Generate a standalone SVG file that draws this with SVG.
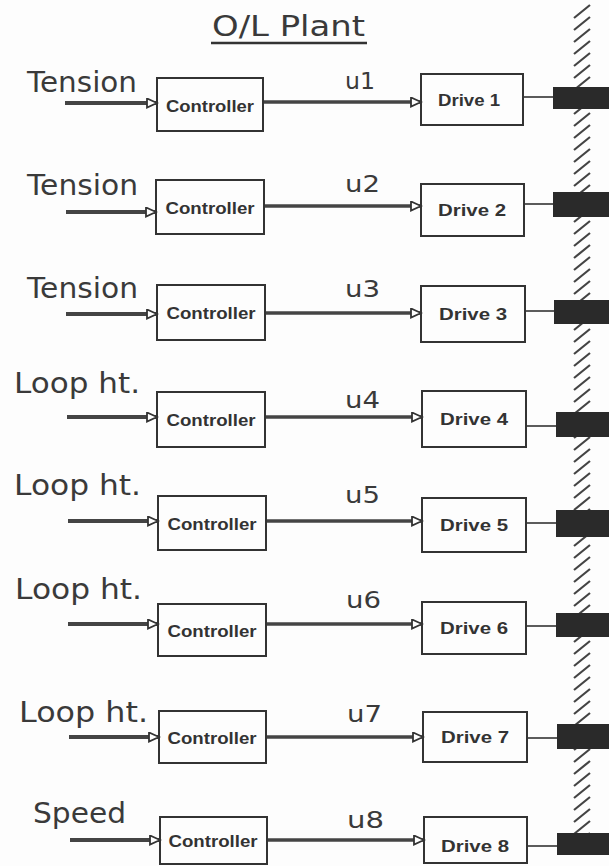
<svg xmlns="http://www.w3.org/2000/svg" width="609" height="866" viewBox="0 0 609 866">
<defs>
<style>
.lbl{font-family:"DejaVu Sans","Liberation Sans",sans-serif;font-size:28px;fill:#3a3a3a}
.u{font-family:"DejaVu Sans","Liberation Sans",sans-serif;font-size:23px;fill:#3a3a3a}
.bt{font-family:"Liberation Sans","DejaVu Sans",sans-serif;font-weight:bold;font-size:16px;fill:#333}
.box{fill:none;stroke:#333;stroke-width:2}
.in{stroke:#444;stroke-width:4;fill:none}
.sig{stroke:#444;stroke-width:3.5;fill:none}
.thin{stroke:#333;stroke-width:1.6;fill:none}
.mass{fill:#2a2a2a}
</style>
<marker id="ah" markerUnits="userSpaceOnUse" markerWidth="13" markerHeight="11" refX="10" refY="4.5" orient="auto" viewBox="-1 -1 13 11">
<path d="M0,0 L10,4.5 L0,9 z" fill="#fff" stroke="#333" stroke-width="1.8"/>
</marker>
</defs>
<rect width="609" height="866" fill="#fdfdfd"/>

<g id="title">
<text class="lbl" x="212" y="36" font-size="30" textLength="153" lengthAdjust="spacingAndGlyphs">O/L Plant</text>
<line x1="211" y1="43" x2="367" y2="43" stroke="#333" stroke-width="2.5"/>
</g>

<g id="wall">
<path d="M574,18l16,-13m-16,25l16,-13m-16,25l16,-13m-16,25l16,-13m-16,25l16,-13m-16,25l16,-13m-16,25l16,-13m-16,25l16,-13m-16,25l16,-13m-16,25l16,-13m-16,25l16,-13m-16,25l16,-13m-16,25l16,-13m-16,25l16,-13m-16,25l16,-13m-16,25l16,-13m-16,25l16,-13m-16,25l16,-13m-16,25l16,-13m-16,25l16,-13m-16,25l16,-13m-16,25l16,-13m-16,25l16,-13m-16,25l16,-13m-16,25l16,-13m-16,25l16,-13m-16,25l16,-13m-16,25l16,-13m-16,25l16,-13m-16,25l16,-13m-16,25l16,-13m-16,25l16,-13m-16,25l16,-13m-16,25l16,-13m-16,25l16,-13m-16,25l16,-13m-16,25l16,-13m-16,25l16,-13m-16,25l16,-13m-16,25l16,-13m-16,25l16,-13m-16,25l16,-13m-16,25l16,-13m-16,25l16,-13m-16,25l16,-13m-16,25l16,-13m-16,25l16,-13m-16,25l16,-13m-16,25l16,-13m-16,25l16,-13m-16,25l16,-13m-16,25l16,-13m-16,25l16,-13m-16,25l16,-13m-16,25l16,-13m-16,25l16,-13m-16,25l16,-13m-16,25l16,-13m-16,25l16,-13m-16,25l16,-13m-16,25l16,-13m-16,25l16,-13m-16,25l16,-13m-16,25l16,-13m-16,25l16,-13m-16,25l16,-13m-16,25l16,-13m-16,25l16,-13m-16,25l16,-13m-16,25l16,-13" stroke="#444" stroke-width="2.2" fill="none"/>
</g>

<g id="connectors">
<line class="in" x1="65" y1="103" x2="157" y2="103" marker-end="url(#ah)"/>
<line class="sig" x1="263" y1="102" x2="421" y2="102" marker-end="url(#ah)"/>
<line class="thin" x1="523" y1="97" x2="553" y2="97"/>
<line class="in" x1="66" y1="212" x2="156" y2="212" marker-end="url(#ah)"/>
<line class="sig" x1="264" y1="206" x2="421" y2="206" marker-end="url(#ah)"/>
<line class="thin" x1="524" y1="204" x2="553" y2="204"/>
<line class="in" x1="66" y1="314" x2="157" y2="314" marker-end="url(#ah)"/>
<line class="sig" x1="265" y1="313" x2="421" y2="313" marker-end="url(#ah)"/>
<line class="thin" x1="525" y1="311" x2="554" y2="311"/>
<line class="in" x1="67" y1="417" x2="157" y2="417" marker-end="url(#ah)"/>
<line class="sig" x1="265" y1="417" x2="422" y2="417" marker-end="url(#ah)"/>
<line class="thin" x1="526" y1="426" x2="556" y2="426"/>
<line class="in" x1="68" y1="521" x2="158" y2="521" marker-end="url(#ah)"/>
<line class="sig" x1="266" y1="521" x2="422" y2="521" marker-end="url(#ah)"/>
<line class="thin" x1="526" y1="523" x2="556" y2="523"/>
<line class="in" x1="68" y1="624" x2="158" y2="624" marker-end="url(#ah)"/>
<line class="sig" x1="266" y1="624" x2="422" y2="624" marker-end="url(#ah)"/>
<line class="thin" x1="526" y1="626" x2="556" y2="626"/>
<line class="in" x1="69" y1="737" x2="159" y2="737" marker-end="url(#ah)"/>
<line class="sig" x1="266" y1="737" x2="423" y2="737" marker-end="url(#ah)"/>
<line class="thin" x1="527" y1="738" x2="557" y2="738"/>
<line class="in" x1="70" y1="840" x2="160" y2="840" marker-end="url(#ah)"/>
<line class="sig" x1="267" y1="840" x2="424" y2="840" marker-end="url(#ah)"/>
<line class="thin" x1="527" y1="846" x2="557" y2="846"/>
</g>

<g id="row1">
<text class="lbl" x="27" y="92" textLength="110" lengthAdjust="spacingAndGlyphs">Tension</text>
<text class="u" x="345" y="89" textLength="30" lengthAdjust="spacingAndGlyphs">u1</text>
<g id="ctrl1"><rect class="box" x="157" y="78" width="106" height="53"/><text class="bt" x="210" y="112" text-anchor="middle" textLength="88" lengthAdjust="spacingAndGlyphs">Controller</text></g>
<g id="drive1"><rect class="box" x="421" y="74" width="102" height="51"/><text class="bt" x="469" y="106" text-anchor="middle" textLength="62" lengthAdjust="spacingAndGlyphs">Drive 1</text></g>
<rect class="mass" x="553" y="87" width="56" height="22"/>
</g>

<g id="row2">
<text class="lbl" x="27" y="195" textLength="111" lengthAdjust="spacingAndGlyphs">Tension</text>
<text class="u" x="345" y="192" textLength="35" lengthAdjust="spacingAndGlyphs">u2</text>
<g id="ctrl2"><rect class="box" x="156" y="180" width="108" height="54"/><text class="bt" x="210" y="214" text-anchor="middle" textLength="89" lengthAdjust="spacingAndGlyphs">Controller</text></g>
<g id="drive2"><rect class="box" x="421" y="184" width="103" height="52"/><text class="bt" x="472" y="216" text-anchor="middle" textLength="68" lengthAdjust="spacingAndGlyphs">Drive 2</text></g>
<rect class="mass" x="553" y="192" width="56" height="25"/>
</g>

<g id="row3">
<text class="lbl" x="27" y="298" textLength="111" lengthAdjust="spacingAndGlyphs">Tension</text>
<text class="u" x="345" y="297" textLength="35" lengthAdjust="spacingAndGlyphs">u3</text>
<g id="ctrl3"><rect class="box" x="157" y="285" width="108" height="55"/><text class="bt" x="211" y="319" text-anchor="middle" textLength="89" lengthAdjust="spacingAndGlyphs">Controller</text></g>
<g id="drive3"><rect class="box" x="421" y="286" width="104" height="56"/><text class="bt" x="473" y="320" text-anchor="middle" textLength="68" lengthAdjust="spacingAndGlyphs">Drive 3</text></g>
<rect class="mass" x="554" y="300" width="55" height="24"/>
</g>

<g id="row4">
<text class="lbl" x="14" y="393" textLength="126" lengthAdjust="spacingAndGlyphs">Loop ht.</text>
<text class="u" x="345" y="408" textLength="35" lengthAdjust="spacingAndGlyphs">u4</text>
<g id="ctrl4"><rect class="box" x="157" y="392" width="108" height="55"/><text class="bt" x="211" y="426" text-anchor="middle" textLength="89" lengthAdjust="spacingAndGlyphs">Controller</text></g>
<g id="drive4"><rect class="box" x="422" y="391" width="104" height="56"/><text class="bt" x="474" y="425" text-anchor="middle" textLength="68" lengthAdjust="spacingAndGlyphs">Drive 4</text></g>
<rect class="mass" x="556" y="412" width="53" height="25"/>
</g>

<g id="row5">
<text class="lbl" x="14" y="495" textLength="127" lengthAdjust="spacingAndGlyphs">Loop ht.</text>
<text class="u" x="345" y="503" textLength="35" lengthAdjust="spacingAndGlyphs">u5</text>
<g id="ctrl5"><rect class="box" x="158" y="496" width="108" height="54"/><text class="bt" x="212" y="530" text-anchor="middle" textLength="89" lengthAdjust="spacingAndGlyphs">Controller</text></g>
<g id="drive5"><rect class="box" x="422" y="498" width="104" height="54"/><text class="bt" x="474" y="531" text-anchor="middle" textLength="68" lengthAdjust="spacingAndGlyphs">Drive 5</text></g>
<rect class="mass" x="556" y="510" width="53" height="27"/>
</g>

<g id="row6">
<text class="lbl" x="15" y="599" textLength="127" lengthAdjust="spacingAndGlyphs">Loop ht.</text>
<text class="u" x="346" y="608" textLength="35" lengthAdjust="spacingAndGlyphs">u6</text>
<g id="ctrl6"><rect class="box" x="158" y="604" width="108" height="52"/><text class="bt" x="212" y="637" text-anchor="middle" textLength="89" lengthAdjust="spacingAndGlyphs">Controller</text></g>
<g id="drive6"><rect class="box" x="422" y="602" width="104" height="52"/><text class="bt" x="474" y="634" text-anchor="middle" textLength="68" lengthAdjust="spacingAndGlyphs">Drive 6</text></g>
<rect class="mass" x="556" y="613" width="53" height="24"/>
</g>

<g id="row7">
<text class="lbl" x="19" y="722" textLength="129" lengthAdjust="spacingAndGlyphs">Loop ht.</text>
<text class="u" x="347" y="722" textLength="35" lengthAdjust="spacingAndGlyphs">u7</text>
<g id="ctrl7"><rect class="box" x="159" y="711" width="107" height="52"/><text class="bt" x="212" y="744" text-anchor="middle" textLength="89" lengthAdjust="spacingAndGlyphs">Controller</text></g>
<g id="drive7"><rect class="box" x="423" y="712" width="104" height="50"/><text class="bt" x="475" y="743" text-anchor="middle" textLength="68" lengthAdjust="spacingAndGlyphs">Drive 7</text></g>
<rect class="mass" x="557" y="724" width="52" height="25"/>
</g>

<g id="row8">
<text class="lbl" x="33" y="823" textLength="93" lengthAdjust="spacingAndGlyphs">Speed</text>
<text class="u" x="347" y="828" textLength="37" lengthAdjust="spacingAndGlyphs">u8</text>
<g id="ctrl8"><rect class="box" x="160" y="817" width="107" height="47"/><text class="bt" x="213" y="847" text-anchor="middle" textLength="89" lengthAdjust="spacingAndGlyphs">Controller</text></g>
<g id="drive8"><rect class="box" x="424" y="817" width="103" height="46"/><text class="bt" x="475" y="852" text-anchor="middle" textLength="68" lengthAdjust="spacingAndGlyphs">Drive 8</text></g>
<rect class="mass" x="557" y="833" width="52" height="22"/>
</g>
</svg>
